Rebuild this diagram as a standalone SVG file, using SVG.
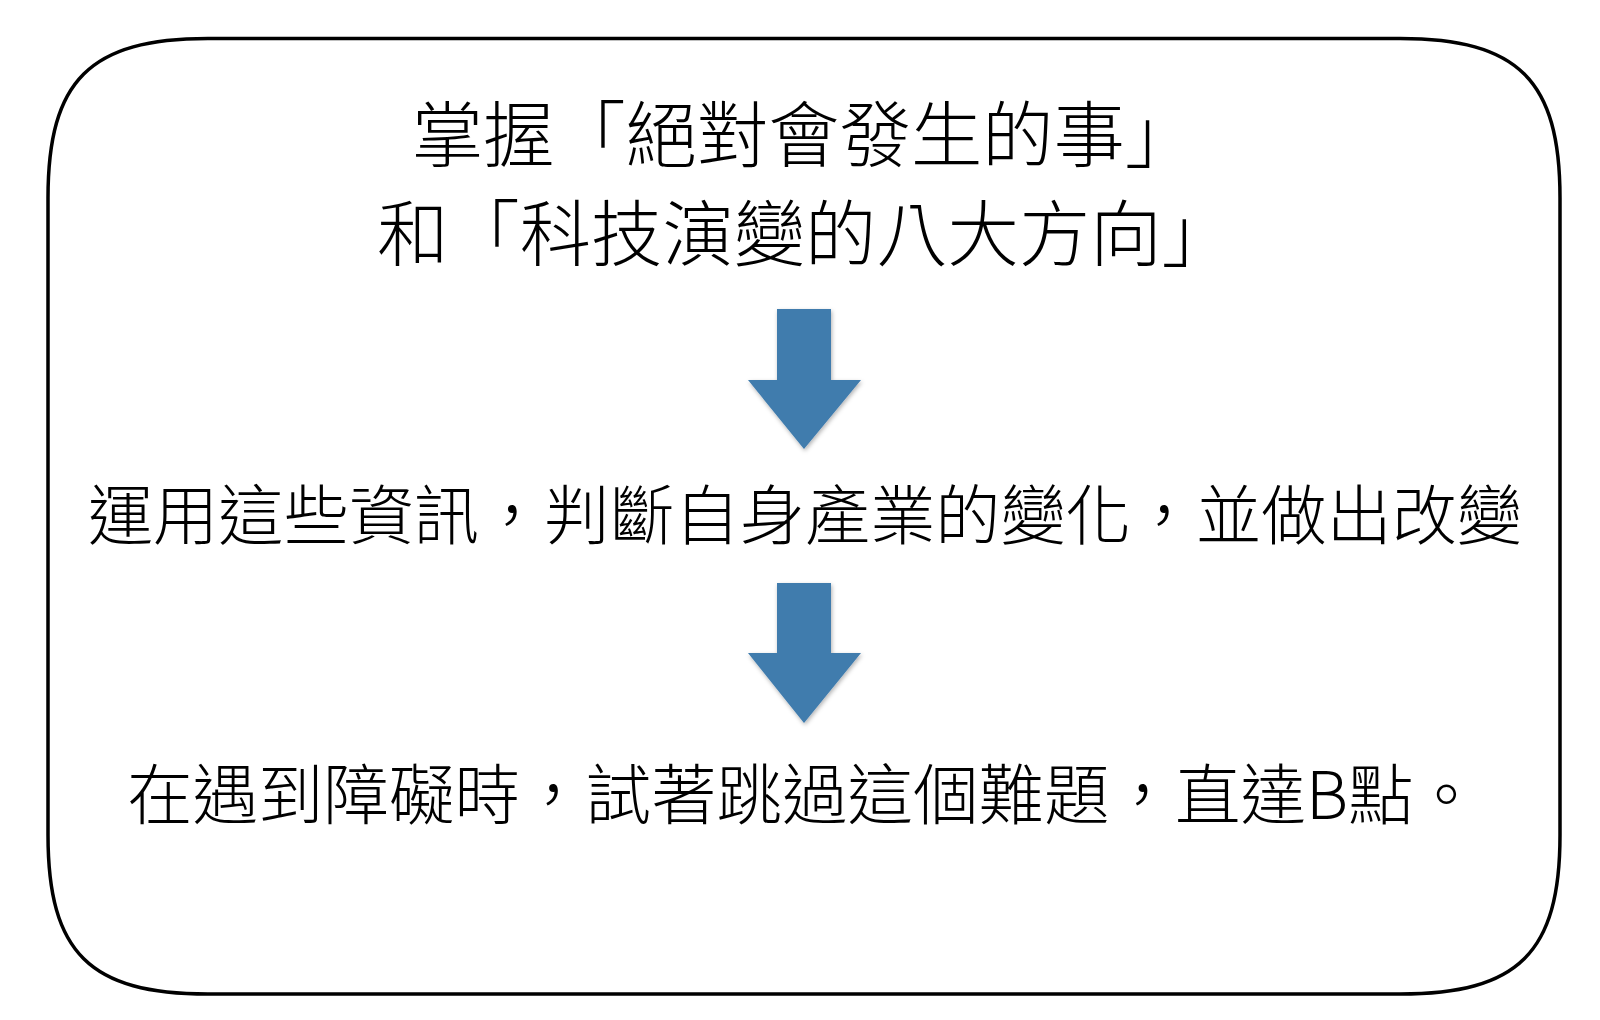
<svg xmlns="http://www.w3.org/2000/svg" width="1600" height="1020" viewBox="0 0 1600 1020">
  <defs>
    <style>
      .frame { fill: #ffffff; stroke: #000000; stroke-width: 3.5; }
      .t { font-family: "Noto Sans CJK TC", "Noto Sans CJK SC", sans-serif; font-weight: 300; fill: #000000; text-anchor: middle; }
      .arrow { fill: #3f7bad; filter: url(#sh); }
    </style>
    <filter id="sh" x="-20%" y="-20%" width="140%" height="140%">
      <feDropShadow dx="1" dy="2" stdDeviation="2" flood-color="#000000" flood-opacity="0.3"/>
    </filter>
  </defs>
  <rect width="1600" height="1020" fill="#ffffff"/>
  <g id="frame">
    <path class="frame" d="M 48,198 C 48,80 90,38.5 208,38.5 L 1400,38.5 C 1518,38.5 1560,80 1560,198 L 1560,835 C 1560,953 1518,994 1400,994 L 208,994 C 90,994 48,953 48,835 Z"/>
  </g>
  <g id="node1">
    <text class="t" x="804" y="161" font-size="71.3">掌握「絕對會發生的事」</text>
    <text class="t" x="805" y="260" font-size="71.3">和「科技演變的八大方向」</text>
  </g>
  <g id="node2">
    <text class="t" x="805" y="539" font-size="65.2">運用這些資訊，判斷自身產業的變化，並做出改變</text>
  </g>
  <g id="node3">
    <text class="t" x="803" y="819" font-size="65.5">在遇到障礙時，試著跳過這個難題，直達B點。</text>
  </g>
  <g id="connectors">
    <polygon class="arrow" points="777,309 831,309 831,380 861,380 804,449 748,380 777,380"/>
    <polygon class="arrow" points="777,583 831,583 831,653 861,653 804,723 748,653 777,653"/>
  </g>
</svg>
